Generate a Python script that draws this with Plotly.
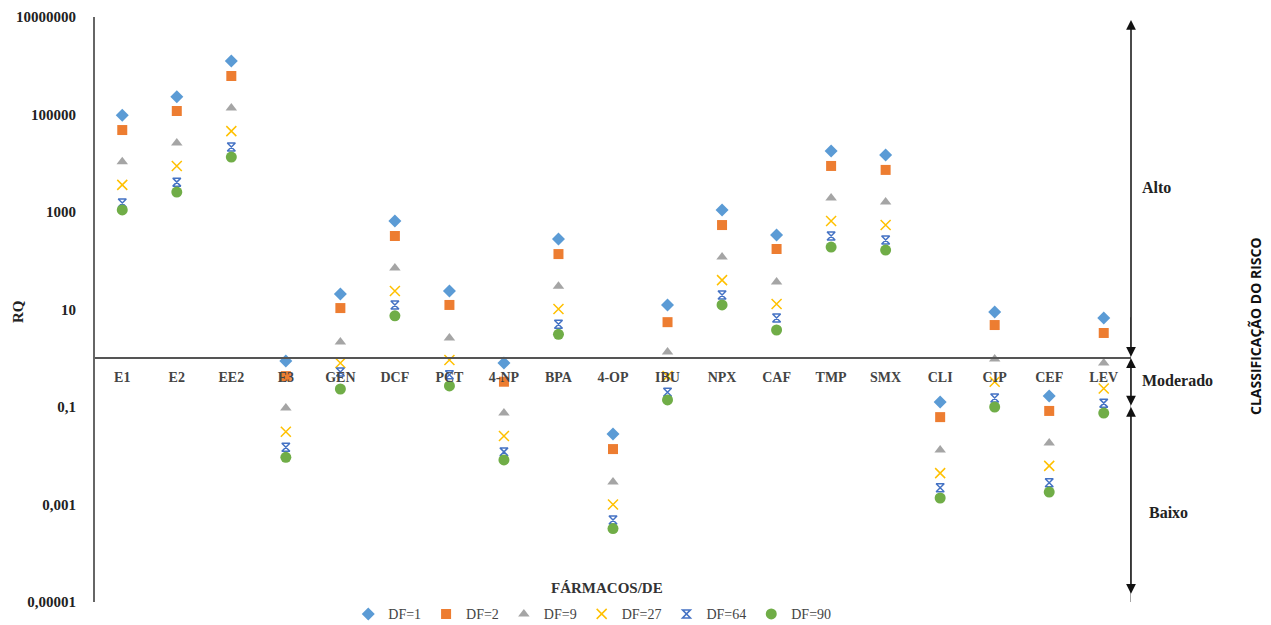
import math
import plotly.graph_objects as go

categories = ["E1", "E2", "EE2", "E3", "GEN", "DCF", "PCT", "4-NP", "BPA", "4-OP",
              "IBU", "NPX", "CAF", "TMP", "SMX", "CLI", "CIP", "CEF", "LEV"]

df1 = [97000, 230000, 1250000, 0.88, 20.8, 653, 24, 0.8, 279, 0.028,
       12.4, 1100, 337, 17800, 14800, 0.127, 8.9, 0.168, 6.7]
df2 = [48000, 118000, 616000, 0.43, 10.7, 322, 12.4, 0.33, 137, 0.0137,
       5.5, 540, 174, 8800, 7300, 0.062, 4.8, 0.083, 3.3]
df9 = [10700, 26000, 136000, 0.095, 2.15, 71, 2.6, 0.075, 30, 0.0029,
       1.34, 119, 36.6, 1940, 1600, 0.0131, 0.97, 0.0183, 0.8]
df27 = [3600, 8800, 45600, 0.031, 0.8, 24, 0.92, 0.0254, 10.2, 0.001,
        0.43, 40, 13, 653, 540, 0.0044, 0.33, 0.0062, 0.24]
df64 = [1530, 4100, 21500, 0.015, 0.52, 12.4, 0.46, 0.012, 5.0, 0.00048,
        0.2, 19.8, 6.7, 322, 267, 0.0022, 0.153, 0.0028, 0.12]
df90 = [1100, 2570, 13400, 0.0093, 0.234, 7.4, 0.27, 0.0082, 3.1, 0.00032,
        0.14, 12.4, 3.8, 191, 166, 0.00136, 0.1, 0.0018, 0.075]

series_names = ["DF=1", "DF=2", "DF=9", "DF=27", "DF=64", "DF=90"]
series_values = [df1, df2, df9, df27, df64, df90]

ytick_vals = [1e-5, 1e-3, 0.1, 10, 1000, 100000, 10000000]
ytick_text = ["0,00001", "0,001", "0,1", "10", "1000", "100000", "10000000"]

styles = [
    dict(symbol="diamond", color="#5B9BD5", size=10),
    dict(symbol="square", color="#ED7D31", size=10),
    dict(symbol="triangle-up", color="#A5A5A5", size=10),
    dict(symbol="x-thin", color="#FFC000", size=10),
    dict(symbol="hourglass-open", color="#4472C4", size=8),
    dict(symbol="circle", color="#70AD47", size=11),
]

SERIF = "Liberation Serif"

fig = go.Figure()
for name, vals, st in zip(series_names, series_values, styles):
    fig.add_trace(go.Scatter(
        x=categories, y=vals, mode="markers", name=name,
        marker=dict(symbol=st["symbol"], color=st["color"], size=st["size"],
                    line=dict(color=st["color"], width=1.5 if st["symbol"] in ("x-thin", "hourglass-open") else 0)),
    ))

LOG_MIN, LOG_MAX = -5, 7

fig.update_layout(
    width=1271, height=625,
    margin=dict(l=95, r=140, t=17, b=23, autoexpand=False),
    paper_bgcolor="white", plot_bgcolor="white",
    showlegend=True,
    legend=dict(orientation="h", x=0.48, xanchor="center", y=-0.021, yanchor="middle",
                font=dict(family=SERIF, size=14, color="#444"), itemwidth=30,
                tracegroupgap=0),
    xaxis=dict(type="category", categoryorder="array", categoryarray=categories,
               range=[-0.5, len(categories) - 0.5], automargin=False,
               anchor="free", position=(0 - LOG_MIN) / (LOG_MAX - LOG_MIN),
               showline=True, linecolor="#555", linewidth=1.5,
               showgrid=False, zeroline=False, ticks="",
               ticklabelstandoff=6,
               tickfont=dict(family=SERIF, size=14, color="#444", weight="bold")),
    yaxis=dict(type="log", range=[LOG_MIN, LOG_MAX], tickvals=ytick_vals, ticktext=ytick_text,
               automargin=False,
               showline=True, linecolor="#666", linewidth=2, showgrid=False, zeroline=False,
               ticks="", ticklabelstandoff=14,
               tickfont=dict(family=SERIF, size=15, color="#222", weight="bold")),
)

# horizontal line at 0.1
fig.add_shape(type="line", xref="x domain", x0=0, x1=1, yref="y", y0=math.log10(0.1), y1=math.log10(0.1),
              line=dict(color="#777", width=1.5))

# risk classification arrows
xr = len(categories) - 0.5
segments = [(0, 6.94), (-1, 0), (-4.86, -1)]
for lo, hi in segments:
    fig.add_annotation(x=xr, y=hi, ax=xr, ay=lo, xref="x", yref="y", axref="x", ayref="y",
                       text="", showarrow=True, arrowhead=2, arrowside="end+start",
                       arrowsize=1.3, arrowwidth=1.5, arrowcolor="#111", standoff=0, startstandoff=0)
# vertical gray line
fig.add_shape(type="line", xref="x", x0=xr, x1=xr, yref="y", y0=-4.86, y1=6.94,
              line=dict(color="#888", width=1.5), layer="below")

def px_to_paper_x(px):
    return (px - 95) / 1036

def px_to_paper_y(py):
    return (602 - py) / 585

for txt, px, py in [("Alto", 1140, 188), ("Moderado", 1140, 380), ("Baixo", 1147, 512)]:
    fig.add_annotation(text=txt, x=px_to_paper_x(px), y=px_to_paper_y(py), xref="paper", yref="paper",
                       xanchor="left", yanchor="middle", showarrow=False,
                       font=dict(family=SERIF, size=16, color="#222", weight="bold"))

fig.add_annotation(text="CLASSIFICAÇÃO DO RISCO", x=px_to_paper_x(1255), y=px_to_paper_y(326),
                   xref="paper", yref="paper", textangle=-90, showarrow=False,
                   xanchor="center", yanchor="middle",
                   font=dict(family="Open Sans", size=14, color="#111", weight="bold"))

fig.add_annotation(text="RQ", x=px_to_paper_x(18), y=px_to_paper_y(312),
                   xref="paper", yref="paper", textangle=-90, showarrow=False,
                   xanchor="center", yanchor="middle",
                   font=dict(family=SERIF, size=15, color="#222", weight="bold"))

fig.add_annotation(text="FÁRMACOS/DE", x=px_to_paper_x(607), y=px_to_paper_y(588),
                   xref="paper", yref="paper", showarrow=False,
                   xanchor="center", yanchor="middle",
                   font=dict(family=SERIF, size=15, color="#333", weight="bold"))

fig.write_html("out.html", config={"displayModeBar": False},
               post_script="document.body.style.margin='0';document.body.style.overflow='hidden';")
